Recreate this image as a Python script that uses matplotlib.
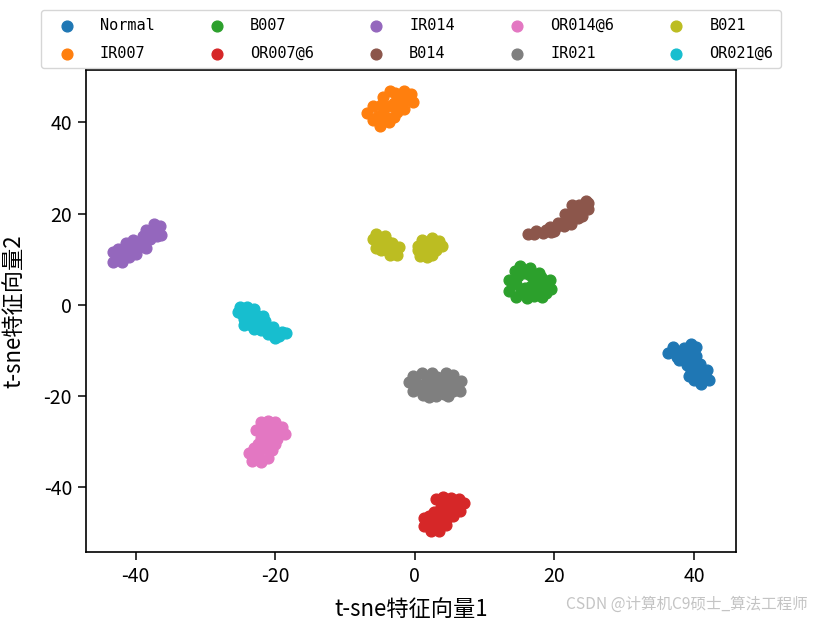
import numpy as np
import matplotlib
matplotlib.use('Agg')
import matplotlib.pyplot as plt

plt.rcParams['font.family'] = ['Noto Sans CJK SC', 'DejaVu Sans']
plt.rcParams['axes.unicode_minus'] = False

# classes (legend order) and t-sne points
labels = ['Normal', 'IR007', 'B007', 'OR007@6', 'IR014',
          'B014', 'OR014@6', 'IR021', 'B021', 'OR021@6']

normal_x = [36.2, 37.0, 37.5, 38.5, 39.5, 40.0, 38.8, 39.8, 40.3, 39.5, 40.5, 41.5, 40.0, 41.0, 42.2, 41.5, 39.2,
            37.5, 38.7, 39.0, 40.8, 40.6, 41.8, 37.8, 40.2]
normal_y = [-10.5, -9.2, -11.5, -9.5, -8.6, -10.0, -11.8, -12.5, -11.2, -14.5, -14.0, -15.0, -16.5, -17.3, -16.5, -15.8, -15.5,
            -10.3, -10.6, -13.2, -13.0, -15.5, -14.2, -12.0, -9.3]

ir007_x = [-6.8, -6.0, -6.0, -5.0, -4.5, -3.7, -3.5, -4.5, -3.5, -2.5, -1.5, -1.0, -0.2, -1.5, -2.5, -0.5,
           -5.3, -4.8, -3.0, -2.0, -1.5, -5.5, -4.0, -2.8, -3.0]
ir007_y = [42.0, 43.5, 40.5, 39.3, 42.0, 40.0, 43.5, 45.5, 46.8, 45.0, 47.0, 45.2, 44.5, 43.0, 42.2, 46.3,
           41.5, 43.8, 44.3, 43.8, 45.8, 40.8, 41.0, 46.5, 41.3]

b007_x = [13.5, 13.5, 14.3, 15.0, 15.8, 14.5, 15.8, 16.0, 17.0, 17.3, 17.8, 18.5, 18.2, 19.5, 19.3, 16.5,
          14.5, 14.8, 16.7, 16.3, 17.5, 18.0, 15.2, 18.8, 17.0, 16.5]
b007_y = [3.0, 5.5, 7.5, 8.6, 7.0, 1.8, 3.8, 1.5, 5.5, 3.0, 7.0, 4.5, 1.8, 3.5, 5.5, 6.5,
          4.5, 6.3, 4.2, 2.7, 4.5, 6.0, 2.8, 2.7, 2.0, 8.0]

or007_x = [3.0, 4.0, 5.2, 6.3, 7.0, 6.5, 5.2, 3.8, 2.7, 1.3, 1.3, 2.3, 3.5, 4.5, 3.3, 5.5, 4.5,
           4.2, 6.0, 5.5, 3.5, 2.2, 2.5, 3.5, 4.5, 2.0]
or007_y = [-42.5, -42.2, -42.3, -42.5, -43.5, -45.3, -44.5, -44.3, -45.5, -46.8, -48.5, -49.6, -49.7, -48.3, -47.2, -46.2, -46.0,
           -43.5, -43.8, -45.5, -45.8, -47.5, -48.5, -48.5, -47.2, -46.2]

ir014_x = [-43.2, -43.2, -42.0, -42.0, -41.0, -40.5, -41.3, -40.0, -39.5, -39.0, -38.5, -38.0, -37.5, -37.0, -36.5, -36.3, -38.5,
           -42.5, -41.8, -40.8, -39.8, -39.0, -38.0, -37.2, -42.5, -40.3, -37.3]
ir014_y = [9.5, 11.5, 9.5, 12.2, 10.5, 12.8, 13.5, 11.2, 13.5, 15.0, 12.5, 14.5, 16.5, 15.0, 17.2, 15.3, 16.5,
           10.5, 11.0, 11.8, 12.3, 13.8, 15.5, 16.0, 12.2, 14.2, 17.8]

b014_x = [16.2, 17.3, 18.3, 19.3, 20.0, 20.5, 21.3, 21.8, 22.3, 22.8, 23.3, 23.5, 24.5, 24.8, 24.0, 22.5, 21.5,
          17.0, 18.8, 20.3, 21.6, 22.5, 23.3, 24.0, 24.8, 19.5]
b014_y = [15.5, 16.3, 15.8, 17.0, 16.3, 18.0, 17.2, 19.0, 17.8, 20.5, 19.0, 21.8, 22.8, 21.0, 19.5, 22.0, 20.0,
          15.5, 16.5, 17.2, 18.0, 19.0, 20.5, 21.5, 22.3, 16.0]

or014_x = [-22.8, -22.0, -21.0, -20.0, -19.0, -18.6, -20.3, -21.5, -19.8, -22.5, -23.8, -23.3, -22.0, -21.0, -21.0, -22.5,
           -21.5, -20.5, -19.5, -21.0, -22.0, -21.8, -22.5, -23.0, -20.5, -20.0]
or014_y = [-27.5, -25.8, -25.5, -25.7, -26.8, -28.3, -28.0, -28.5, -29.5, -30.5, -32.5, -34.2, -34.5, -33.5, -31.0, -32.5,
           -26.8, -26.8, -28.0, -29.5, -29.3, -31.5, -33.5, -31.5, -31.8, -30.5]

ir021_x = [-0.8, -0.3, -0.3, 1.0, 1.0, 1.2, 2.5, 2.5, 3.0, 3.8, 4.2, 4.5, 5.5, 5.5, 6.6, 6.5, 5.5, 2.0,
           0.0, 0.2, 1.8, 1.8, 3.0, 3.2, 3.5, 4.5, 5.0, 5.0, 6.0, 4.8, 2.0]
ir021_y = [-17.0, -15.5, -18.8, -14.9, -17.5, -19.8, -15.0, -18.5, -20.0, -16.5, -19.5, -15.0, -17.2, -19.0, -16.8, -18.8, -15.3, -17.0,
           -16.2, -18.0, -15.8, -18.8, -17.5, -15.8, -18.8, -17.5, -16.2, -18.5, -18.0, -20.0, -20.2]

b021_x = [-6.0, -5.5, -5.0, -4.3, -4.0, -3.3, -2.5, -2.3, -5.5, -3.5,
          -5.2, -4.5, -3.8, -3.0, -4.8, -2.8,
          0.4, 0.8, 1.0, 2.0, 2.5, 3.5, 3.9, 1.8, 3.0,
          1.5, 1.2, 2.5, 3.0, 2.2, 0.5]
b021_y = [14.5, 15.6, 13.0, 15.0, 12.0, 13.5, 11.0, 12.7, 12.5, 11.0,
          14.0, 13.5, 13.8, 12.2, 12.0, 11.5,
          13.0, 10.8, 14.2, 12.5, 14.6, 14.0, 12.8, 10.5, 12.0,
          13.5, 11.8, 11.0, 13.3, 13.8, 12.0]

or021_x = [-25.4, -25.0, -24.0, -24.5, -23.0, -23.5, -22.5, -22.0, -21.5, -21.0, -20.3, -19.5, -18.5, -20.0, -24.5,
           -24.8, -24.0, -23.8, -22.8, -23.0, -22.0, -21.3, -20.5, -19.0, -23.0, -21.8]
or021_y = [-1.5, -0.5, -0.4, -3.0, -1.0, -4.5, -2.5, -5.5, -3.5, -6.5, -4.8, -6.8, -6.2, -7.3, -4.5,
           -2.0, -1.8, -3.2, -3.5, -2.3, -4.0, -5.0, -6.0, -6.0, -5.3, -2.5]

xs = [normal_x, ir007_x, b007_x, or007_x, ir014_x, b014_x, or014_x, ir021_x, b021_x, or021_x]
ys = [normal_y, ir007_y, b007_y, or007_y, ir014_y, b014_y, or014_y, ir021_y, b021_y, or021_y]

fig = plt.figure(figsize=(8.16, 6.25), dpi=100)
ax = fig.add_axes([86/816, 1 - 552/625, (736 - 86)/816, (552 - 70)/625])

for x, y, lab in zip(xs, ys, labels):
    ax.scatter(x, y, s=60, label=lab)

ax.set_xlim(-47.1, 46.0)
ax.set_ylim(-54.2, 51.5)
ax.tick_params(labelsize=14, length=6, width=1.1, pad=4)
for sp in ax.spines.values():
    sp.set_linewidth(1.2)
ax.set_xlabel('t-sne特征向量1', fontsize=16, labelpad=8)
ax.set_ylabel('t-sne特征向量2', fontsize=16, labelpad=13)

handles, labs = ax.get_legend_handles_labels()
fig.legend(handles, labs, loc='upper center', bbox_to_anchor=(411/816, 1 - 10/625),
           ncol=5, prop={'family': 'DejaVu Sans Mono', 'size': 11},
           handlelength=2.36, handletextpad=0.98, columnspacing=2.9,
           labelspacing=0.85, borderpad=0.5, borderaxespad=0)

fig.text(0.99, 0.02, 'CSDN @计算机C9硕士_算法工程师', ha='right', va='bottom',
         fontsize=11.2, color='#c4c4c4')

fig.savefig('out.png', dpi=100)
